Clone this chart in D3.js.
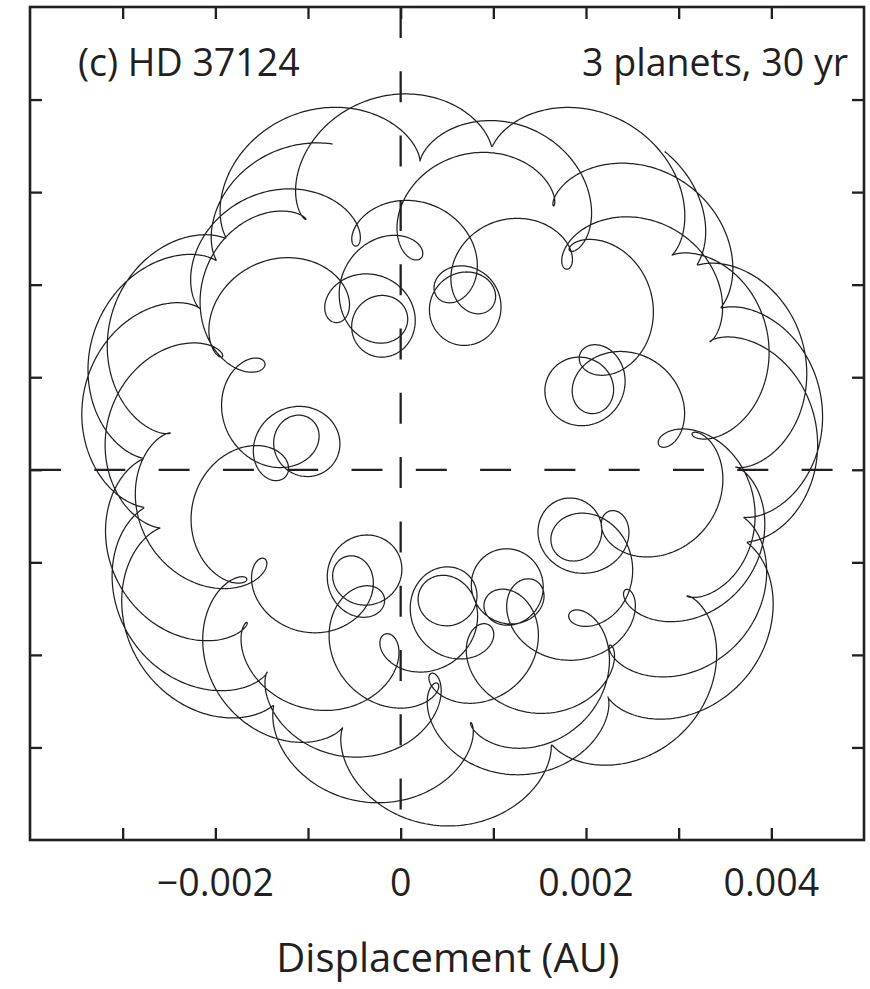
<!DOCTYPE html>
<html>
<head>
<meta charset="utf-8">
<script src="https://cdn.jsdelivr.net/npm/d3@7"></script>
<style>
  body { margin: 0; background: #fff; }
  text { font-family: "Open Sans", "Noto Sans", sans-serif; fill: #231f20; }
</style>
</head>
<body>
<svg id="chart" width="870" height="989"></svg>
<script>
// Reflex motion of HD 37124 caused by its three planets (face-on, circular orbits).
const planetNames   = ["b", "c", "d"];
const periodDays    = [154.46, 843.6, 2295];
const reflexAU      = [0.00035, 0.001095, 0.00261];
const startAngleDeg = [63.4, 74.4, 131.1];
const barycentreAU  = [0.00053, 0.000185];
const spanYears     = 30;

// Axis ticks
const tickValues    = [-0.003, -0.002, -0.001, 0, 0.001, 0.002, 0.003, 0.004];
const labelValues   = [-0.002, 0, 0.002, 0.004];
const labelTexts    = ["\u22120.002", "0", "0.002", "0.004"];

const ink = "#231f20";
const svg = d3.select("#chart");
const frame = { left: 30, right: 864, top: 7, bottom: 840 };

const x = d3.scaleLinear().domain([-0.004, 0.005]).range([frame.left, frame.right]);
const y = d3.scaleLinear().domain([-0.004, 0.005]).range([frame.bottom, frame.top]);

// Star position sampled once per day over the whole span
const spanDays = spanYears * 365.25;
const track = d3.range(0, spanDays + 0.5, 1).map(t => {
  let px = barycentreAU[0], py = barycentreAU[1];
  for (let i = 0; i < planetNames.length; i++) {
    const a = (startAngleDeg[i] * Math.PI / 180) + 2 * Math.PI * t / periodDays[i];
    px += reflexAU[i] * Math.cos(a);
    py += reflexAU[i] * Math.sin(a);
  }
  return [px, py];
});

svg.append("path")
  .datum(track)
  .attr("fill", "none")
  .attr("stroke", ink)
  .attr("stroke-width", 1.25)
  .attr("stroke-linejoin", "round")
  .attr("d", d3.line().x(d => x(d[0])).y(d => y(d[1])));

// Zero lines
const dash = "31,33.3";
svg.append("line")
  .attr("x1", x(0)).attr("x2", x(0))
  .attr("y1", frame.top).attr("y2", frame.bottom)
  .attr("stroke", ink).attr("stroke-width", 2.3).attr("stroke-dasharray", dash);
svg.append("line")
  .attr("x1", frame.left).attr("x2", frame.right)
  .attr("y1", y(0)).attr("y2", y(0))
  .attr("stroke", ink).attr("stroke-width", 2.3).attr("stroke-dasharray", dash);

// Inward ticks on all four sides
const tickLen = 12;
function styleAxis(g) {
  g.select(".domain").remove();
  g.selectAll(".tick line").attr("stroke", ink).attr("stroke-width", 2.3);
  g.selectAll(".tick text").remove();
}
svg.append("g").attr("transform", `translate(0,${frame.bottom})`)
  .call(d3.axisBottom(x).tickValues(tickValues).tickSize(-tickLen)).call(styleAxis);
svg.append("g").attr("transform", `translate(0,${frame.top})`)
  .call(d3.axisTop(x).tickValues(tickValues).tickSize(-tickLen)).call(styleAxis);
svg.append("g").attr("transform", `translate(${frame.left},0)`)
  .call(d3.axisLeft(y).tickValues(tickValues).tickSize(-tickLen)).call(styleAxis);
svg.append("g").attr("transform", `translate(${frame.right},0)`)
  .call(d3.axisRight(y).tickValues(tickValues).tickSize(-tickLen)).call(styleAxis);

// Frame
svg.append("rect")
  .attr("x", frame.left).attr("y", frame.top)
  .attr("width", frame.right - frame.left).attr("height", frame.bottom - frame.top)
  .attr("fill", "none").attr("stroke", ink).attr("stroke-width", 2.6);

// Tick labels
svg.append("g").selectAll("text")
  .data(labelValues)
  .join("text")
  .attr("x", d => x(d))
  .attr("y", 896)
  .attr("text-anchor", "middle")
  .attr("font-size", 37.5)
  .text((d, i) => labelTexts[i]);

// Axis title and panel annotations
svg.append("text")
  .attr("x", 448)
  .attr("y", 972)
  .attr("text-anchor", "middle")
  .attr("font-size", 40)
  .text("Displacement (AU)");

svg.append("text")
  .attr("x", 78).attr("y", 76)
  .attr("font-size", 37.5)
  .text("(c) HD 37124");

svg.append("text")
  .attr("x", 848).attr("y", 76)
  .attr("text-anchor", "end")
  .attr("font-size", 37.5)
  .text("3 planets, 30 yr");
</script>
</body>
</html>
